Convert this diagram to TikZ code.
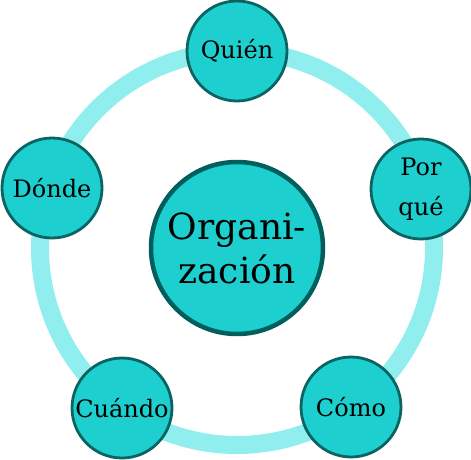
\documentclass[tikz,border=0pt]{standalone}
\usepackage{fontspec}
\setmainfont{DejaVu Serif}
\usepackage{tikz}
\usetikzlibrary{positioning}
\definecolor{orFill}{HTML}{1DCFCF}
\definecolor{orRing}{HTML}{90EEEE}
\definecolor{orEdge}{HTML}{0B6462}
\definecolor{orCore}{HTML}{005E5C}
\tikzset{
  hubnode/.style={circle,draw=orCore,line width=4.5pt,fill=orFill,
    minimum size=172pt,inner sep=0pt,align=center,
    font=\fontsize{36}{44}\selectfont},
  satnode/.style={circle,draw=orEdge,line width=2.8pt,fill=orFill,
    minimum size=100pt,inner sep=0pt,align=center,
    font=\fontsize{24}{40}\selectfont},
  ringline/.style={draw=orRing,line width=18pt},
}
\begin{document}
\begin{tikzpicture}[x=1pt,y=-1pt]
  \useasboundingbox (0,0) rectangle (471,460);
  \node[hubnode] (org) at (237,248) {Organi-\\zación};
  \draw[ringline] (org.center) circle[radius=197pt];
  \node[satnode] (quien) at (237,51) {Quién};
  \node[satnode] (porque) at (421,189) {Por\\qué};
  \node[satnode] (como) at (351,407) {Cómo};
  \node[satnode] (cuando) at (122,408) {Cuándo};
  \node[satnode] (donde) at (52,188) {Dónde};
\end{tikzpicture}
\end{document}
